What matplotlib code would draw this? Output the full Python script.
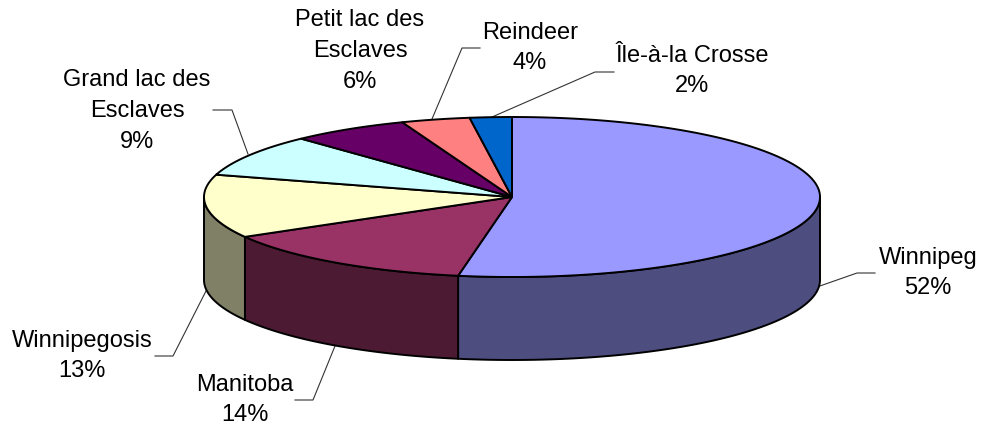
import numpy as np
import matplotlib
matplotlib.use("Agg")
import matplotlib.pyplot as plt

plt.rcParams["font.family"] = ["Liberation Sans", "DejaVu Sans"]

# chart data, clockwise from 12 o'clock
lakes = ["Winnipeg", "Manitoba", "Winnipegosis", "Grand lac des\nEsclaves",
         "Petit lac des\nEsclaves", "Reindeer", "Île-à-la Crosse"]
shares = [52.8, 13.9, 12.8, 8.5, 6.2, 3.6, 2.2]
pct_labels = ["52%", "14%", "13%", "9%", "6%", "4%", "2%"]
top_colors = ["#9999FF", "#993366", "#FFFFCC", "#CCFFFF", "#660066", "#FF8080", "#0066CC"]
side_colors = ["#4D4D80", "#4D1A33", "#808066", "#668080", "#330033", "#804040", "#003366"]

# pie geometry in pixels
cx, cy = 512, 198
rx, ry = 308, 80
depth = 83

# label centres and leader lines (None = no leader)
label_pos = [(928, 273), (245, 400), (82, 356), (137, 111), (360, 51), (530, 48), (692, 71)]
leaders = [
    [(817, 288), (857, 274), (875, 274)],
    [(335, 347), (313, 401), (295, 401)],
    [(206, 292), (173, 357), (155, 357)],
    [(248, 155), (232, 111), (213, 111)],
    None,
    [(432, 120), (462, 49), (480, 49)],
    [(492, 118), (595, 73), (614, 73)],
]


def rim(a0, a1):
    # points on the top ellipse, angle in radians clockwise from the top
    t = np.linspace(a0, a1, max(2, int(abs(a1 - a0) * 60)))
    return cx + rx * np.sin(t), cy - ry * np.cos(t)


fig = plt.figure(figsize=(9.82, 4.27), dpi=100)
ax = fig.add_axes([0, 0, 1, 1])
ax.set_xlim(0, 982)
ax.set_ylim(427, 0)
ax.axis("off")

edges = np.cumsum([0] + shares) / sum(shares) * 2 * np.pi

# side wall, only the front half of the disc shows
for i in range(len(shares)):
    a0 = max(edges[i], np.pi / 2)
    a1 = min(edges[i + 1], 3 * np.pi / 2)
    if a1 <= a0:
        continue
    x, y = rim(a0, a1)
    xs = np.concatenate([x, x[::-1]])
    ys = np.concatenate([y, y[::-1] + depth])
    ax.fill(xs, ys, facecolor=side_colors[i], edgecolor="black", lw=1.4, joinstyle="round", zorder=2)

# top face
for i in range(len(shares)):
    x, y = rim(edges[i], edges[i + 1])
    xs = np.concatenate([[cx], x])
    ys = np.concatenate([[cy], y])
    ax.fill(xs, ys, facecolor=top_colors[i], edgecolor="black", lw=1.4, joinstyle="round", zorder=3)

for line in leaders:
    if line is None:
        continue
    ax.plot([p[0] for p in line], [p[1] for p in line], color="#333333", lw=0.8, zorder=1)

for i in range(len(lakes)):
    ax.text(label_pos[i][0], label_pos[i][1], lakes[i] + "\n" + pct_labels[i],
            ha="center", va="center", fontsize=17, color="black", linespacing=1.5)

fig.savefig("out.png", dpi=100, facecolor="white")
